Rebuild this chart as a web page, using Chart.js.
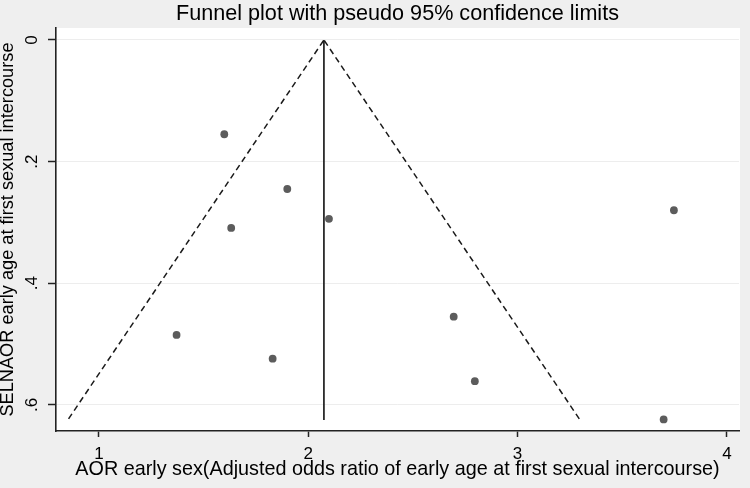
<!DOCTYPE html>
<html>
<head>
<meta charset="utf-8">
<script src="https://cdn.jsdelivr.net/npm/chart.js@4.4.1/dist/chart.umd.min.js"></script>
<style>
  html, body { margin: 0; padding: 0; background: #efefef; }
  #wrap { width: 750px; height: 488px; }
</style>
</head>
<body>
<div id="wrap"><canvas id="c" width="750" height="488"></canvas></div>
<script>
// Study estimates (AOR) and their standard errors of log AOR
const aorValues = [1.599, 1.900, 1.632, 2.099, 1.371, 1.830, 2.695, 2.796, 3.747, 3.698];
const seValues  = [0.155, 0.245, 0.309, 0.294, 0.485, 0.524, 0.455, 0.561, 0.280, 0.624];

// Pseudo 95% confidence limit lines (funnel) and pooled estimate line
const funnelLeftAOR  = [0.855, 2.075];
const funnelRightAOR = [3.295, 2.075];
const funnelSE       = [0.623, 0];
const pooledAOR      = [2.075, 2.075];
const pooledSE       = [0, 0.625];

// Axis ticks
const xTicks = [1, 2, 3, 4];
const xTickLabels = ['1', '2', '3', '4'];
const yTicks = [0, 0.2, 0.4, 0.6];
const yTickLabels = ['0', '.2', '.4', '.6'];

const FONT = '"Liberation Sans", Arial, Helvetica, sans-serif';

const toXY = (xs, ys) => xs.map((x, i) => ({ x: x, y: ys[i] }));

const plotBg = {
  id: 'plotBg',
  beforeDraw(chart) {
    const { ctx, chartArea: a } = chart;
    ctx.save();
    ctx.fillStyle = '#efefef';
    ctx.fillRect(0, 0, chart.width, chart.height);
    ctx.fillStyle = '#ffffff';
    ctx.fillRect(a.left, a.top, a.right - a.left + 1, a.bottom - a.top);
    ctx.restore();
  }
};

const yLabels = {
  id: 'yLabels',
  afterDraw(chart) {
    const { ctx } = chart;
    const ys = chart.scales.y;
    ctx.save();
    ctx.fillStyle = '#000';
    ctx.font = '17px ' + FONT;
    ctx.textAlign = 'center';
    ctx.textBaseline = 'middle';
    yTicks.forEach((v, i) => {
      const py = ys.getPixelForValue(v);
      ctx.save();
      ctx.translate(32, py);
      ctx.rotate(-Math.PI / 2);
      ctx.fillText(yTickLabels[i], 0, 0);
      ctx.restore();
    });
    ctx.restore();
  }
};

new Chart(document.getElementById('c'), {
  type: 'scatter',
  data: {
    datasets: [
      {
        type: 'line',
        data: toXY(funnelLeftAOR, funnelSE),
        borderColor: '#1a1a1a',
        borderWidth: 1.5,
        borderDash: [6, 4],
        pointRadius: 0,
        fill: false,
        tension: 0
      },
      {
        type: 'line',
        data: toXY(funnelRightAOR, funnelSE),
        borderColor: '#1a1a1a',
        borderWidth: 1.5,
        borderDash: [6, 4],
        pointRadius: 0,
        fill: false,
        tension: 0
      },
      {
        type: 'line',
        data: toXY(pooledAOR, pooledSE),
        borderColor: '#111',
        borderWidth: 1.6,
        pointRadius: 0,
        fill: false,
        tension: 0
      },
      {
        type: 'scatter',
        data: toXY(aorValues, seValues),
        backgroundColor: '#5c5c5c',
        borderColor: '#5c5c5c',
        borderWidth: 0,
        pointRadius: 3.9
      }
    ]
  },
  options: {
    responsive: false,
    animation: false,
    devicePixelRatio: 1,
    layout: { padding: { left: 0, right: 11, top: 0, bottom: 0 } },
    plugins: {
      legend: { display: false },
      tooltip: { enabled: false },
      title: {
        display: true,
        fullSize: false,
        text: 'Funnel plot with pseudo 95% confidence limits',
        color: '#000',
        font: { family: FONT, size: 21.6, weight: 'normal', lineHeight: 1.2 },
        padding: { top: 1.5, bottom: 0.6 }
      }
    },
    scales: {
      x: {
        type: 'linear',
        position: 'bottom',
        min: 0.795,
        max: 4.058,
        afterBuildTicks: s => { s.ticks = xTicks.map(v => ({ value: v })); },
        afterFit: s => { s.height = 57; },
        ticks: {
          color: '#000',
          font: { family: FONT, size: 17 },
          padding: 7,
          maxRotation: 0,
          callback: (v) => { const i = xTicks.indexOf(v); return i >= 0 ? xTickLabels[i] : ''; }
        },
        grid: {
          drawOnChartArea: false,
          drawTicks: true,
          tickLength: 6,
          tickColor: '#222',
          tickWidth: 1.5
        },
        border: { display: true, color: '#222', width: 1.6 },
        title: {
          display: true,
          text: 'AOR early sex(Adjusted odds ratio of early age at first sexual intercourse)',
          color: '#000',
          font: { family: FONT, size: 19.8, lineHeight: 1.2 },
          padding: { top: 0, bottom: 6.5 }
        }
      },
      y: {
        type: 'linear',
        position: 'left',
        reverse: true,
        min: -0.0197,
        max: 0.643,
        afterBuildTicks: s => { s.ticks = yTicks.map(v => ({ value: v })); },
        afterFit: s => { s.width = 56; },
        ticks: { display: false },
        grid: {
          drawOnChartArea: true,
          color: '#ededed',
          lineWidth: 1,
          drawTicks: true,
          tickLength: 8,
          tickColor: '#222',
          tickWidth: 1.5
        },
        border: { display: true, color: '#222', width: 1.6 },
        title: {
          display: true,
          text: 'SELNAOR early age at first sexual intercourse',
          color: '#000',
          font: { family: FONT, size: 18.2, lineHeight: 0.9 },
          padding: { top: 0, bottom: 0 }
        }
      }
    }
  },
  plugins: [plotBg, yLabels]
});
</script>
</body>
</html>
